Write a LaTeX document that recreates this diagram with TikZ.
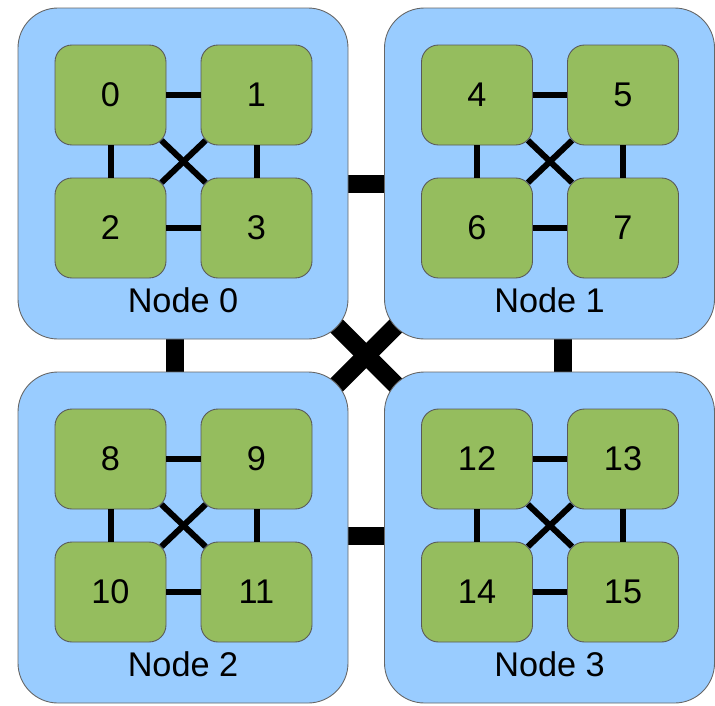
\documentclass[tikz,border=0pt]{standalone}
\usepackage{fontspec}
\setmainfont{Liberation Sans}
\usetikzlibrary{backgrounds}
\definecolor{cBoard}{HTML}{99CCFF}
\definecolor{cGpu}{HTML}{95BD5E}
\begin{document}
\begin{tikzpicture}[
  font=\fontsize{19.5}{23}\selectfont,
  board/.style={rounded corners=0.8cm,draw=black!60,line width=0.5pt,fill=cBoard,minimum width=6.6cm,minimum height=6.62cm,inner sep=0pt},
  gpu/.style={rounded corners=0.34cm,draw=black!65,line width=0.5pt,fill=cGpu,minimum width=2.22cm,minimum height=2cm,inner sep=0pt},
  lbl/.style={inner sep=0pt},
  link/.style={line width=0.12cm,black},
  bus/.style={line width=0.36cm,black},
]
\useasboundingbox (0,0) rectangle (14.3,14.1);

% ---------- BOARDS ----------
\node[board] (n0) at (3.66,10.63) {};
\node[board] (n1) at (10.99,10.63) {};
\node[board] (n2) at (3.66,3.35) {};
\node[board] (n3) at (10.99,3.35) {};

% ---------- NODE 0 ----------
\node[gpu] (g0) at (2.21,12.2) {0};
\node[gpu] (g1) at (5.13,12.2) {1};
\node[gpu] (g2) at (2.21,9.54) {2};
\node[gpu] (g3) at (5.13,9.54) {3};
\node[lbl] (l0) at (3.66,8.1) {Node 0};

% ---------- NODE 1 ----------
\node[gpu] (g4) at (9.54,12.2) {4};
\node[gpu] (g5) at (12.46,12.2) {5};
\node[gpu] (g6) at (9.54,9.54) {6};
\node[gpu] (g7) at (12.46,9.54) {7};
\node[lbl] (l1) at (10.99,8.1) {Node 1};

% ---------- NODE 2 ----------
\node[gpu] (g8) at (2.21,4.92) {8};
\node[gpu] (g9) at (5.13,4.92) {9};
\node[gpu] (g10) at (2.21,2.26) {10};
\node[gpu] (g11) at (5.13,2.26) {11};
\node[lbl] (l2) at (3.66,0.82) {Node 2};

% ---------- NODE 3 ----------
\node[gpu] (g12) at (9.54,4.92) {12};
\node[gpu] (g13) at (12.46,4.92) {13};
\node[gpu] (g14) at (9.54,2.26) {14};
\node[gpu] (g15) at (12.46,2.26) {15};
\node[lbl] (l3) at (10.99,0.82) {Node 3};

% ---------- LINKS INSIDE A NODE ----------
\draw[link] (g0) -- (g1);
\draw[link] (g2) -- (g3);
\draw[link] (g0) -- (g2);
\draw[link] (g1) -- (g3);
\draw[link] ([shift={(-0.1,0.1)}]g0.south east) -- ([shift={(0.1,-0.1)}]g3.north west);
\draw[link] ([shift={(-0.1,-0.1)}]g2.north east) -- ([shift={(0.1,0.1)}]g1.south west);

\draw[link] (g4) -- (g5);
\draw[link] (g6) -- (g7);
\draw[link] (g4) -- (g6);
\draw[link] (g5) -- (g7);
\draw[link] ([shift={(-0.1,0.1)}]g4.south east) -- ([shift={(0.1,-0.1)}]g7.north west);
\draw[link] ([shift={(-0.1,-0.1)}]g6.north east) -- ([shift={(0.1,0.1)}]g5.south west);

\draw[link] (g8) -- (g9);
\draw[link] (g10) -- (g11);
\draw[link] (g8) -- (g10);
\draw[link] (g9) -- (g11);
\draw[link] ([shift={(-0.1,0.1)}]g8.south east) -- ([shift={(0.1,-0.1)}]g11.north west);
\draw[link] ([shift={(-0.1,-0.1)}]g10.north east) -- ([shift={(0.1,0.1)}]g9.south west);

\draw[link] (g12) -- (g13);
\draw[link] (g14) -- (g15);
\draw[link] (g12) -- (g14);
\draw[link] (g13) -- (g15);
\draw[link] ([shift={(-0.1,0.1)}]g12.south east) -- ([shift={(0.1,-0.1)}]g15.north west);
\draw[link] ([shift={(-0.1,-0.1)}]g14.north east) -- ([shift={(0.1,0.1)}]g13.south west);

% ---------- LINKS BETWEEN NODES ----------
\begin{scope}[on background layer]
  \draw[bus] ([yshift=-0.2cm]n0.east) -- ([yshift=-0.2cm]n1.west);
  \draw[bus] ([yshift=0.04cm]n2.east) -- ([yshift=0.04cm]n3.west);
  \draw[bus] ([xshift=-0.17cm]n0.south) -- ([xshift=-0.17cm]n2.north);
  \draw[bus] ([xshift=0.27cm]n1.south) -- ([xshift=0.27cm]n3.north);
  \draw[bus] (n0.center) -- (n3.center);
  \draw[bus] (n1.center) -- (n2.center);
\end{scope}

\end{tikzpicture}
\end{document}
